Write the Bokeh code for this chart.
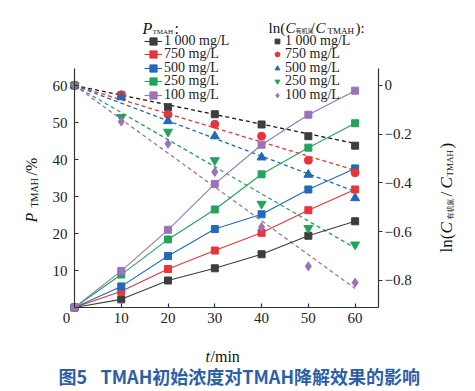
import math
from bokeh.plotting import figure
from bokeh.models import (Range1d, LinearAxis, FixedTicker, CustomJSTickFormatter,
                          Label, Legend, LegendItem)
from bokeh.embed import file_html
from bokeh.resources import INLINE

# ---------------- data ----------------
t = [0, 10, 20, 30, 40, 50, 60]
conc_labels = ["1 000 mg/L", "750 mg/L", "500 mg/L", "250 mg/L", "100 mg/L"]

p_1000 = [0, 2.2, 7.3, 10.6, 14.4, 19.4, 23.3]
p_750 = [0, 4.4, 10.4, 15.4, 20.2, 26.3, 31.9]
p_500 = [0, 5.7, 13.9, 21.2, 25.2, 31.9, 37.6]
p_250 = [0, 8.9, 18.4, 26.5, 36.0, 43.2, 49.8]
p_100 = [0, 9.9, 21.0, 33.4, 44.0, 52.1, 58.6]

ln_1000 = [0, -0.041, -0.089, -0.118, -0.160, -0.208, -0.247]
ln_750 = [0, -0.038, -0.119, -0.159, -0.208, -0.307, -0.358]
ln_500 = [0, -0.048, -0.146, -0.208, -0.295, -0.366, -0.462]
ln_250 = [0, -0.130, -0.190, -0.307, -0.486, -0.585, -0.653]
ln_100 = [0, -0.148, -0.239, -0.355, -0.581, -0.742, -0.809]

fit_t = [0, 60]
fit_1000 = [0, -0.238]
fit_750 = [0, -0.348]
fit_500 = [0, -0.435]
fit_250 = [0, -0.667]
fit_100 = [0, -0.833]

left_ticks = [10, 20, 30, 40, 50, 60]
right_ticks = [0, -0.2, -0.4, -0.6, -0.8]
x_ticks = [10, 20, 30, 40, 50, 60]

P_series = [p_1000, p_750, p_500, p_250, p_100]
ln_series = [ln_1000, ln_750, ln_500, ln_250, ln_100]
fit_series = [fit_1000, fit_750, fit_500, fit_250, fit_100]

colors = ["#3d3d3d", "#e8343a", "#1e6bb8", "#22a45c", "#9a73b8"]
dash_colors = ["#1a1a1a", "#e8343a", "#1e6bb8", "#22a45c", "#9a73b8"]
ln_markers = ["square", "circle", "triangle", "inverted_triangle", "diamond"]
ln_sizes = [7, 8, 9, 9, 9]

SERIF = "Liberation Serif"

# ---------------- geometry (image px of the data box) ----------------
OFF = 0                  # page offset of the canvas
W, H = 475, 391
BX0, BX1 = 74, 378       # image x of t=0 and of right axis
BY0, BY1 = 307, 68       # image y of bottom axis and top of axes
X0, X1 = 0, 65
Y0, Y1 = 0, 64.6
R0, R1 = -0.911, 0.0697

sx = (X1 - X0) / (BX1 - BX0)
sy = (Y1 - Y0) / (BY0 - BY1)
sr = (R1 - R0) / (BY0 - BY1)

def ix(px):
    return X0 + (px - BX0) * sx

def iy(py):
    return Y0 + (BY0 - py) * sy

def ir(py):
    return R0 + (BY0 - py) * sr

p = figure(width=W, height=H,
           x_range=Range1d(ix(OFF), ix(OFF + W)), y_range=Range1d(iy(OFF + H), iy(OFF)),
           min_border=0, min_border_left=0, min_border_right=0,
           min_border_top=0, min_border_bottom=0,
           output_backend="svg", toolbar_location=None)
p.extra_y_ranges = {"ln": Range1d(ir(OFF + H), ir(OFF))}
p.outline_line_color = None
p.grid.visible = False
p.background_fill_color = "white"
p.border_fill_color = "white"

def style_axis(ax):
    ax.axis_line_color = "#333333"
    ax.axis_line_width = 1.2
    ax.major_tick_line_color = "#333333"
    ax.major_tick_line_width = 1.2
    ax.minor_tick_line_color = None
    ax.major_label_text_font = SERIF
    ax.major_label_text_font_size = "15px"
    ax.major_label_text_color = "#222222"

xax = p.xaxis[0]
yax = p.yaxis[0]
xax.ticker = FixedTicker(ticks=x_ticks)
yax.ticker = FixedTicker(ticks=left_ticks)
xax.fixed_location = Y0
yax.fixed_location = X0
xax.bounds = (X0, X1)
yax.bounds = (Y0, Y1)
for ax in (xax, yax):
    style_axis(ax)
    ax.major_tick_in = 4
    ax.major_tick_out = 0
xax.major_label_standoff = 5
yax.major_label_standoff = 7

rax = LinearAxis(y_range_name="ln", ticker=FixedTicker(ticks=right_ticks),
                 fixed_location=X1, bounds=(R0, R1),
                 formatter=CustomJSTickFormatter(code="""
                    if (Math.abs(tick) < 1e-9) { return "0"; }
                    return (tick < 0 ? "\u2212" : "") + Math.abs(tick).toFixed(1);
                 """))
style_axis(rax)
rax.major_tick_in = 0
rax.major_tick_out = 4
rax.major_label_standoff = 2
p.add_layout(rax, "right")

# ---------------- glyphs ----------------
left_items = []
right_items = []
for i in range(5):
    p.line(fit_t, fit_series[i], y_range_name="ln", line_color=dash_colors[i],
           line_width=1.3, line_dash="4 3")
for i in range(5):
    lr = p.line(t, P_series[i], line_color=colors[i], line_width=1.1)
    srr = p.scatter(t, P_series[i], marker="square", size=7, fill_color=colors[i],
                    line_color=colors[i])
    left_items.append(LegendItem(label=conc_labels[i], renderers=[lr, srr]))
for i in range(5):
    mr = p.scatter(t, ln_series[i], y_range_name="ln", marker=ln_markers[i],
                   size=ln_sizes[i], fill_color=colors[i], line_color=colors[i])
    right_items.append(LegendItem(label=conc_labels[i], renderers=[mr]))

ROW_H = 18
def one_legend(item, left_px, center_py, gw):
    lg = Legend(items=[item],
                location=(left_px - OFF, (OFF + H) - (center_py + ROW_H / 2)),
                label_text_font=SERIF, label_text_font_size="14px",
                label_text_color="#222222",
                label_height=ROW_H, glyph_height=ROW_H, glyph_width=gw,
                label_standoff=2, spacing=0, padding=0, margin=0,
                border_line_color=None, background_fill_alpha=0)
    p.add_layout(lg, "center")

for i in range(5):
    cy = 40.5 + 13.6 * i
    one_legend(left_items[i], 144, cy, 18)
    one_legend(right_items[i], 271, cy, 12)

# ---------------- text ----------------
def lab(text, px, py, size, style="normal", font=SERIF, angle=0.0,
        align="left", baseline="alphabetic", color="#111111"):
    p.add_layout(Label(x=ix(px), y=iy(py), text=text, text_font=font,
                       text_font_size=f"{size}px", text_font_style=style,
                       angle=angle, text_align=align, text_baseline=baseline,
                       text_color=color))

# corner zero
lab("0", 66, 317, 15, align="center", baseline="middle", color="#222222")

# left axis label (rotated)
A = math.pi / 2
lab("P", 31, 222, 16, style="italic", angle=A)
lab("TMAH", 34, 207, 10, angle=A)
lab("/%", 31, 175, 16, angle=A)

# right axis label (rotated)
lab("ln(", 446, 252, 17, angle=A)
lab("C", 446, 233, 17, style="italic", angle=A)
lab("有机氮", 449, 219, 7, font="Noto Sans CJK SC", angle=A)
lab("/", 446, 196, 17, angle=A)
lab("C", 446, 188, 17, style="italic", angle=A)
lab("TMAH", 449, 176, 9, angle=A)
lab(")", 446, 148, 17, angle=A)

# x axis label
lab("t", 205, 356, 16, style="italic")
lab("/min", 210, 356, 16)

# legend titles
lab("P", 142, 28, 16, style="italic")
lab("TMAH", 152, 31, 7)
lab(":", 174, 28, 16)

lab("ln(", 268, 27, 15)
lab("C", 285, 27, 15, style="italic")
lab("有机氮", 295, 30, 6, font="Noto Sans CJK SC")
lab("/", 310, 27, 15)
lab("C", 315, 27, 15, style="italic")
lab("TMAH", 327, 30, 9)
lab("):", 355, 27, 15)

# caption
lab("图5", 58, 375, 18, style="bold", font="Noto Sans CJK SC", baseline="middle",
    color="#2d5fa8")
lab("TMAH初始浓度对TMAH降解效果的影响", 100, 375, 18, style="bold",
    font="Noto Sans CJK SC", baseline="middle", color="#2d5fa8")

open("out.html", "w").write(file_html(p, INLINE))
